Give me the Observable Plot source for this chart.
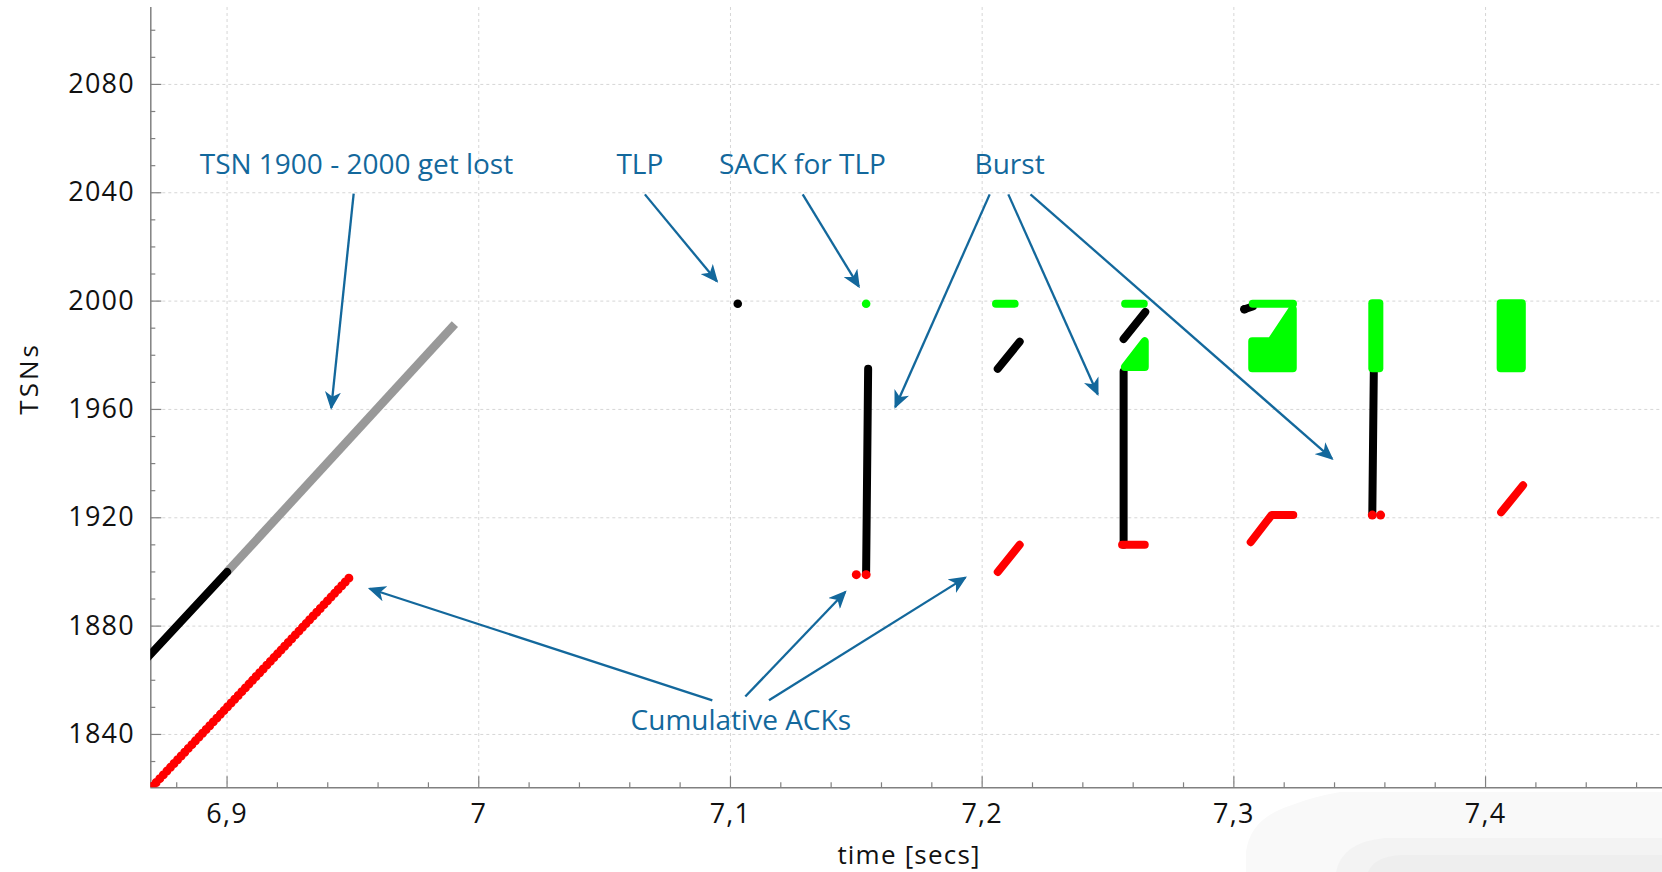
<!DOCTYPE html>
<html>
<head>
<meta charset="utf-8">
<script src="https://cdn.jsdelivr.net/npm/d3@7"></script>
<script src="https://cdn.jsdelivr.net/npm/@observablehq/plot@0.6"></script>
<style>
  html, body { margin: 0; padding: 0; background: #fff; overflow: hidden; }
  #wrap { position: relative; width: 1662px; height: 872px; }
  #bg { position: absolute; left: 0; top: 0; }
  #chart { position: absolute; left: 0; top: 0; }
</style>
</head>
<body>
<div id="wrap">
  <svg id="bg" width="1662" height="872">
    <path d="M1246,872 L1246,852 Q1250,818 1292,805 Q1312,797 1340,792 L1662,792 L1662,872 Z" fill="#f9f9f9"/>
    <path d="M1336,872 Q1342,842 1385,838 L1662,838 L1662,872 Z" fill="#f3f3f3"/>
    <path d="M1368,872 Q1374,857 1400,855 L1662,855 L1662,872 Z" fill="#eeeeee"/>
  </svg>
  <div id="chart"></div>
</div>
<script>
// ---- axes ----
const xDomain = [6.8697, 7.4703];
const yDomain = [1820.3, 2108.4];
const xMajorTicks = [6.9, 7.0, 7.1, 7.2, 7.3, 7.4];
const xTickLabels = ["6,9", "7", "7,1", "7,2", "7,3", "7,4"];
const xMinorTicks = [6.88, 6.92, 6.94, 6.96, 6.98, 7.02, 7.04, 7.06, 7.08, 7.12, 7.14, 7.16, 7.18,
                     7.22, 7.24, 7.26, 7.28, 7.32, 7.34, 7.36, 7.38, 7.42, 7.44, 7.46];
const yMajorTicks = [1840, 1880, 1920, 1960, 2000, 2040, 2080];
const yMinorTicks = [1830, 1850, 1860, 1870, 1890, 1900, 1910, 1930, 1940, 1950, 1970, 1980, 1990,
                     2010, 2020, 2030, 2050, 2060, 2070, 2090, 2100];

// ---- sent DATA chunks (black) ----
const sentSegment = ["s1", "s1", "s2", "s2", "s3", "s3", "s4", "s4", "s5", "s5", "s6", "s6", "s7", "s7"];
const sentTime = [6.8600, 6.9000, 7.1539, 7.1547, 7.2062, 7.2149, 7.2562, 7.2648, 7.2562, 7.2562, 7.3042, 7.3075, 7.3550, 7.3556];
const sentTsn  = [1860, 1900, 1900, 1975, 1975, 1985, 1986, 1996, 1910, 1974, 1997, 1998, 1921, 1974];
// TLP and other single sent chunks
const sentDotTime = [7.1029, 7.3042];
const sentDotTsn  = [1999, 1997];

// ---- lost chunks (grey) ----
const lostTime = [6.9000, 6.9905];
const lostTsn  = [1900, 1991.5];

// ---- cumulative ACKs (red) ----
const ackRunTime = [6.8605, 6.9487];
const ackRunTsn  = [1811.1, 1898];
const ackSegment = ["a1", "a1", "a2", "a2", "a3", "a3", "a3", "a4", "a4"];
const ackTime = [7.2062, 7.2149, 7.2556, 7.2646, 7.3067, 7.3150, 7.3236, 7.4062, 7.4149];
const ackTsn  = [1900, 1910, 1910, 1910, 1911, 1921, 1921, 1922, 1932];
const ackDotTime = [7.1500, 7.1539, 7.3550, 7.3583];
const ackDotTsn  = [1899, 1899, 1921, 1921];

// ---- SACK gap blocks (green) ----
const sackDotTime = [7.1539];
const sackDotTsn  = [1999];
const sackSegment = ["g1", "g1", "g2", "g2", "g3", "g3"];
const sackTime = [7.2055, 7.2129, 7.2568, 7.2642, 7.3075, 7.3235];
const sackTsn  = [1999, 1999, 1999, 1999, 1999, 1999];
const gapBlock = ["b1", "b1", "b2", "b2", "b2", "b3", "b3", "b4", "b4"];
const gapTime  = [7.2569, 7.2648, 7.3075, 7.3150, 7.3236, 7.3552, 7.3580, 7.4062, 7.4146];
const gapLow   = [1975.5, 1975.5, 1975, 1975, 1975, 1975, 1975, 1975, 1975];
const gapHigh  = [1975.5, 1985, 1985, 1985, 1997, 1999, 1999, 1999, 1999];

// ---- annotations ----
const noteText = ["TSN 1900 - 2000 get lost", "TLP", "SACK for TLP", "Burst", "Cumulative ACKs"];
const noteTime = [6.9514, 7.0640, 7.1286, 7.2109, 7.1041];
const noteTsn  = [2050.3, 2050.3, 2050.3, 2050.3, 1845.1];
const arrowFromTime = [6.9503, 7.0660, 7.1287, 7.2030, 7.2104, 7.2192, 7.0928, 7.1059, 7.1153];
const arrowFromTsn  = [2039.7, 2039.4, 2039.4, 2039.4, 2039.4, 2039.4, 1852.6, 1854.0, 1852.6];
const arrowToTime   = [6.9414, 7.0946, 7.1510, 7.1655, 7.2459, 7.3390, 6.9567, 7.1456, 7.1933];
const arrowToTsn    = [1960.6, 2007.3, 2005.4, 1960.9, 1965.6, 1941.8, 1893.8, 1892.6, 1897.9];

const BLUE = "#13689c", GREEN = "#00ff00", RED = "#ff0000", AXIS = "#808080";

const rows = (...cols) => cols[0].map((_, i) => cols.map(c => c[i]));
const sentData = rows(sentSegment, sentTime, sentTsn);
const ackData = rows(ackSegment, ackTime, ackTsn);
const sackData = rows(sackSegment, sackTime, sackTsn);
const gapData = rows(gapBlock, gapTime, gapLow, gapHigh);
const noteData = rows(noteText, noteTime, noteTsn);
const arrowData = rows(arrowFromTime, arrowFromTsn, arrowToTime, arrowToTsn);

const plot = Plot.plot({
  width: 1662, height: 872,
  marginLeft: 150.3, marginRight: 0, marginTop: 7, marginBottom: 84.7,
  style: {fontFamily: "'Open Sans', sans-serif", fontSize: "27px", background: "transparent", color: "#111", overflow: "visible"},
  x: {domain: xDomain},
  y: {domain: yDomain},
  marks: [
    Plot.gridX(xMajorTicks, {stroke: "#d6d6d6", strokeOpacity: 1, strokeDasharray: "3,3"}),
    Plot.gridY(yMajorTicks, {stroke: "#d6d6d6", strokeOpacity: 1, strokeDasharray: "3,3"}),
    // axis lines & ticks
    Plot.ruleX([xDomain[0]], {stroke: AXIS, strokeWidth: 1.5}),
    Plot.ruleY([yDomain[0]], {stroke: AXIS, strokeWidth: 1.5}),
    Plot.axisY(yMajorTicks, {tickSize: -11, tickFormat: () => "", label: null, stroke: AXIS, strokeWidth: 1.2}),
    Plot.axisY(yMinorTicks, {tickSize: -5, tickFormat: () => "", label: null, stroke: AXIS, strokeWidth: 1.2}),
    Plot.axisX(xMajorTicks, {tickSize: -11, tickFormat: () => "", label: null, stroke: AXIS, strokeWidth: 1.2}),
    Plot.axisX(xMinorTicks, {tickSize: -5, tickFormat: () => "", label: null, stroke: AXIS, strokeWidth: 1.2}),
    Plot.axisY(yMajorTicks, {tickSize: 0, tickPadding: 16, tickFormat: d => String(d), label: null, fontSize: 27, fill: "#111"}),
    Plot.axisX(xMajorTicks, {tickSize: 0, tickPadding: 16, tickFormat: d => xTickLabels[xMajorTicks.indexOf(d)], label: null, fontSize: 27, fill: "#111"}),
    // lost data
    Plot.line(rows(lostTime, lostTsn), {x: "0", y: "1", stroke: "#999999", strokeWidth: 8.5, strokeLinecap: "butt"}),
    // sent data
    Plot.line(sentData, {x: "1", y: "2", z: "0", stroke: "#000", strokeWidth: 8, strokeLinecap: "round", clip: true}),
    Plot.dot(rows(sentDotTime, sentDotTsn), {x: "0", y: "1", r: 4.3, fill: "#000", stroke: null}),
    // cumulative acks
    Plot.line(rows(ackRunTime, ackRunTsn), {x: "0", y: "1", stroke: RED, strokeWidth: 9, strokeLinecap: "round", strokeDasharray: "0 5.2", clip: true}),
    Plot.line(ackData, {x: "1", y: "2", z: "0", stroke: RED, strokeWidth: 8, strokeLinecap: "round"}),
    Plot.dot(rows(ackDotTime, ackDotTsn), {x: "0", y: "1", r: 4.5, fill: RED, stroke: null}),
    // sack blocks
    Plot.areaY(gapData, {x: "1", y1: "2", y2: "3", z: "0", fill: GREEN, stroke: GREEN, strokeWidth: 8, strokeLinejoin: "round", curve: "linear"}),
    Plot.line(sackData, {x: "1", y: "2", z: "0", stroke: GREEN, strokeWidth: 8, strokeLinecap: "round"}),
    Plot.dot(rows(sackDotTime, sackDotTsn), {x: "0", y: "1", r: 4.3, fill: GREEN, stroke: null}),
    // titles
    Plot.text(["TSNs"], {text: d => d, frameAnchor: "left", rotate: -90, dx: -121.6, dy: 17, fontSize: 26, fill: "#111"}),
    Plot.text(["time [secs]"], {text: d => d, frameAnchor: "bottom", dx: 2.4, dy: 76, fontSize: 26, fill: "#111"}),
    // annotations
    Plot.text(noteData, {x: "1", y: "2", text: "0", fontSize: 28, fill: BLUE, textAnchor: "middle"}),
    Plot.link(arrowData, {x1: "0", y1: "1", x2: "2", y2: "3", stroke: BLUE, strokeWidth: 2.3})
  ]
});

const svg = d3.select(plot);
svg.append("defs").append("marker")
  .attr("id", "ahead")
  .attr("viewBox", "0 0 18 16")
  .attr("refX", 16).attr("refY", 8)
  .attr("markerWidth", 18).attr("markerHeight", 16)
  .attr("markerUnits", "userSpaceOnUse")
  .attr("orient", "auto")
  .append("path").attr("d", "M0,0L18,8L0,16L5,8Z").attr("fill", BLUE);
svg.selectAll('g[aria-label="link"] path').attr("marker-end", "url(#ahead)");
svg.selectAll("text").each(function() {
  const t = this.textContent;
  if (t === "TSNs") this.setAttribute("letter-spacing", "3");
  else if (t === "time [secs]") this.setAttribute("letter-spacing", "1.2");
  else if (/^[0-9,]+$/.test(t)) this.setAttribute("letter-spacing", "1.2");
});
document.getElementById("chart").appendChild(plot);
</script>
</body>
</html>
